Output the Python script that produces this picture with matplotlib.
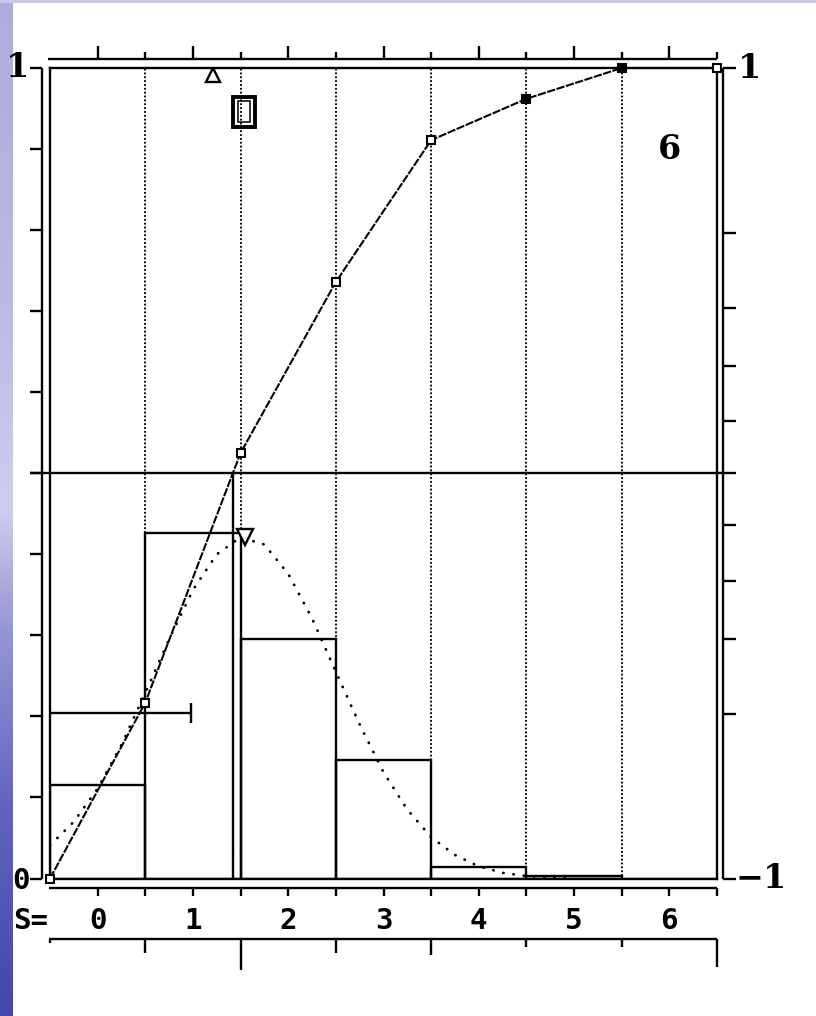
import numpy as np
import matplotlib.pyplot as plt
from matplotlib.patches import Rectangle

# cumulative curve, sampled at the bin edges
edge_s = [-0.5, 0.5, 1.5, 2.5, 3.5, 4.5, 5.5, 6.5]
cum_values = [0.0, 0.217, 0.525, 0.736, 0.911, 0.962, 1.0, 1.0]
cum_filled = [False, False, False, False, False, True, True, False]

# relative frequencies per score bin
bin_s = [0, 1, 2, 3, 4, 5, 6]
bin_freq = [0.115, 0.426, 0.296, 0.146, 0.014, 0.003, 0.0]

# fitted density (dotted)
curve_s = [-0.5, -0.25, 0.0, 0.25, 0.5, 0.75, 1.0, 1.25, 1.5, 1.75, 2.0,
           2.25, 2.5, 2.75, 3.0, 3.25, 3.5, 3.75, 4.0, 4.25, 4.5, 4.75, 5.0]
curve_y = [0.041, 0.070, 0.111, 0.165, 0.229, 0.295, 0.356, 0.400, 0.421,
           0.412, 0.376, 0.321, 0.255, 0.190, 0.131, 0.085, 0.051, 0.029,
           0.015, 0.007, 0.003, 0.001, 0.0]

# markers
top_tri = (1.21, 0.991)
peak_tri = (1.55, 0.421)
box_mark = (1.54, 0.946)
err_center, err_y, err_half = 0.0, 0.204, 0.98
n_label = '6'

score_ticks = [0, 1, 2, 3, 4, 5, 6]
right_ticks = [-0.594, -0.408, -0.265, -0.128, 0.128, 0.265, 0.408, 0.594]
lower_rule_s = [-0.5, 0.5, 1.5, 2.5, 3.5, 4.5, 5.5, 6.5]
lower_rule_len = [4, 14, 31, 14, 16, 8, 8, 28]

W, H = 816, 1016
SX = 7.0 / 667     # S units per pixel
SY = 1.0 / 810.5   # y units per pixel
LW = 1.7
MONO = 'DejaVu Sans Mono'
SERIF = 'DejaVu Serif'


def seg(ax, x0, y0, x1, y1, lw=LW):
    ax.plot([x0, x1], [y0, y1], color='black', lw=lw, clip_on=False,
            solid_capstyle='butt')


def draw_background(fig):
    # bluish strip of the slide behind the picture
    stops_y = [0.0, 0.3, 0.5, 0.62, 0.8, 1.0]
    stops_c = np.array([[172, 172, 222], [186, 186, 230], [206, 206, 238],
                        [150, 150, 212], [98, 98, 190], [70, 70, 172]]) / 255
    t = np.linspace(0, 1, 400)
    grad = np.stack([np.interp(t, stops_y, stops_c[:, k]) for k in range(3)], axis=1)
    bg = fig.add_axes([0, 0, 13 / W, 1])
    bg.imshow(grad[:, None, :], aspect='auto', interpolation='bilinear')
    bg.axis('off')
    top = fig.add_axes([0, 1 - 3 / H, 1, 3 / H])
    top.set_facecolor((0.78, 0.78, 0.92))
    top.set_xticks([])
    top.set_yticks([])
    for sp in top.spines.values():
        sp.set_visible(False)


def draw_frame(ax):
    x0, x1 = -0.5, 6.5
    # outer left scale 0..1
    xl = x0 - 8 * SX
    seg(ax, xl, 0, xl, 1)
    for v in np.linspace(0, 1, 11):
        seg(ax, x0 - 20 * SX, v, xl, v)
    # outer right scale -1..1
    xr = x1 + 6 * SX
    seg(ax, xr, 0, xr, 1)
    for r in [-1.0] + right_ticks + [1.0]:
        v = (r + 1) / 2
        seg(ax, xr, v, x1 + 19 * SX, v)
    # middle line
    seg(ax, x0 - 20 * SX, 0.5, x1 + 19 * SX, 0.5)

    # top ruler
    yt = 1 + 9.5 * SY
    seg(ax, x0 - 2 * SX, yt, x1, yt)
    for s in np.arange(0, 7, 0.5):
        ln = 13 if float(s).is_integer() else 6.5
        seg(ax, s, yt, s, yt + ln * SY)

    # bottom ruler with scores
    yb = -9.5 * SY
    seg(ax, x0 - 1 * SX, yb, x1, yb)
    for s in np.arange(0, 7, 0.5):
        seg(ax, s, yb, s, yb - 7.5 * SY)

    # lower ruler
    yl = -60.5 * SY
    seg(ax, x0 - 1 * SX, yl, x1, yl)
    for s, ln in zip(lower_rule_s, lower_rule_len):
        seg(ax, s, yl, s, yl - ln * SY)


def draw_labels(ax):
    x0, x1 = -0.5, 6.5
    ax.text(x0 - 37 * SX, -50.5 * SY, 'S=', family=MONO, weight='bold',
            fontsize=21, ha='left', va='baseline')
    for s in score_ticks:
        ax.text(s, -50.5 * SY, str(s), family=MONO, weight='bold',
                fontsize=21, ha='center', va='baseline')
    ax.text(x0 - 20 * SX, -10.5 * SY, '0', family=MONO, weight='bold',
            fontsize=21, ha='right', va='baseline')
    ax.text(x0 - 21 * SX, 1 - 9 * SY, '1', family=SERIF, weight='bold',
            fontsize=24, ha='right', va='baseline')
    ax.text(x1 + 21 * SX, 1 - 10 * SY, '1', family=SERIF, weight='bold',
            fontsize=24, ha='left', va='baseline')
    ax.text(x1 + 19 * SX, -9.5 * SY, '\u22121', family=SERIF, weight='bold',
            fontsize=24, ha='left', va='baseline')
    ax.text(6.0, 0.8877, n_label, family=SERIF, weight='bold',
            fontsize=24, ha='center', va='baseline')


def main():
    fig = plt.figure(figsize=(W / 100, H / 100), dpi=100)
    fig.patch.set_facecolor('white')
    draw_background(fig)

    ax = fig.add_axes([50 / W, (H - 878.5) / H, 667 / W, 810.5 / H])
    ax.set_xlim(-0.5, 6.5)
    ax.set_ylim(0, 1)
    ax.set_xticks([])
    ax.set_yticks([])
    for sp in ax.spines.values():
        sp.set_linewidth(LW)

    # dotted bin borders
    ax.vlines(edge_s[1:-1], 0, 1, colors='black', lw=1.5,
              linestyles=[(0, (0.1, 1.75))], capstyle='round', zorder=1)

    # histogram
    ax.bar(bin_s, bin_freq, width=1.0, fill=False, edgecolor='black',
           lw=LW, zorder=2)

    # fitted density
    ax.plot(curve_s, curve_y, color='black', lw=2.0, ls=(0, (0.1, 3.6)),
            dash_capstyle='round', zorder=3)

    # cumulative line with markers
    ax.plot(edge_s, cum_values, color='black', lw=1.5, ls=(0, (4, 0.7)),
            clip_on=False, zorder=4)
    for s, v, f in zip(edge_s, cum_values, cum_filled):
        ax.plot(s, v, marker='s', ms=5.8, mec='black', mew=1.5,
                mfc='black' if f else 'white', clip_on=False, zorder=5)

    # median drop line where the cumulative curve reaches 0.5
    s_med = np.interp(0.5, cum_values, edge_s)
    ax.plot([s_med, s_med], [0, 0.5], color='black', lw=LW, zorder=4)

    # error bar
    ax.errorbar(err_center, err_y, xerr=err_half, fmt='none', ecolor='black',
                elinewidth=LW, capsize=7, capthick=LW, zorder=4)

    # triangles
    ax.plot(*top_tri, marker='^', ms=10, mfc='white', mec='black', mew=1.7,
            zorder=5)
    ax.plot(*peak_tri, marker='v', ms=11, mfc='white', mec='black', mew=1.7,
            zorder=5)

    # box marker
    bx, by = box_mark
    ax.add_patch(Rectangle((bx - 11 * SX, by - 15 * SY), 22 * SX, 30 * SY,
                           fill=False, lw=2.8, ec='black', zorder=5))
    ax.add_patch(Rectangle((bx - 6 * SX, by - 10.5 * SY), 12 * SX, 21 * SY,
                           fill=False, lw=1.1, ec='black', zorder=5))

    draw_frame(ax)
    draw_labels(ax)

    plt.savefig('out.png', dpi=100)
    plt.close()


if __name__ == '__main__':
    main()
